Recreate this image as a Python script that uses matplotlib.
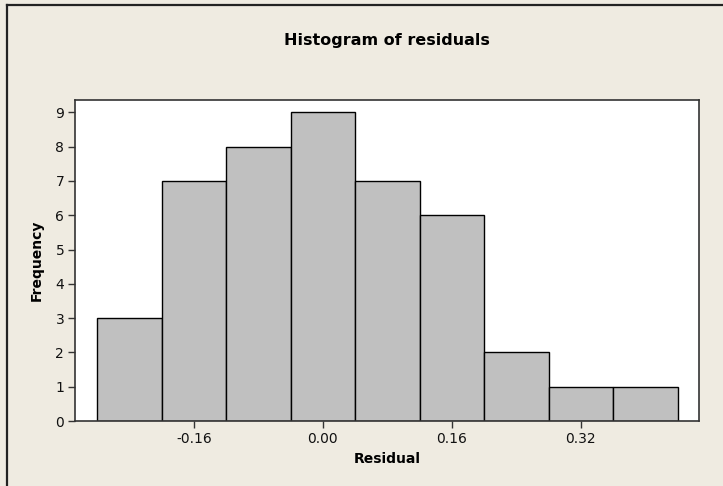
import matplotlib
matplotlib.use("Agg")
import matplotlib.pyplot as plt
from matplotlib.lines import Line2D

bin_centers = [-0.24, -0.16, -0.08, 0.00, 0.08, 0.16, 0.24, 0.32, 0.40]
counts = [3, 7, 8, 9, 7, 6, 2, 1, 1]
bin_width = 0.08
xtick_values = [-0.16, 0.00, 0.16, 0.32]
xtick_labels = ["-0.16", "0.00", "0.16", "0.32"]
ytick_values = list(range(0, 10))

title = "Histogram of residuals"
xlabel = "Residual"
ylabel = "Frequency"

plt.rcParams['font.family'] = ['DejaVu Sans']

bg = "#EFEBE1"
fig = plt.figure(figsize=(7.23, 4.86), dpi=100, facecolor=bg)
ax = fig.add_axes([75.3/723, 1-421/486, (699.3-75.3)/723, (421-100)/486])
ax.set_facecolor("white")

ax.bar(bin_centers, counts, width=bin_width, color="#C0C0C0",
       edgecolor="black", linewidth=1.0, zorder=2)

ax.set_xlim(-0.307, 0.467)
ax.set_ylim(0, 9.36)
ax.set_xticks(xtick_values)
ax.set_xticklabels(xtick_labels)
ax.set_yticks(ytick_values)

for s in ax.spines.values():
    s.set_color("#333333")
    s.set_linewidth(1.2)

ax.tick_params(axis='both', direction='out', length=5, width=1, color="#333333",
               labelsize=10, labelcolor="#111111", pad=3)

ax.set_xlabel(xlabel, fontsize=10, fontweight='bold', labelpad=4)
ax.set_ylabel(ylabel, fontsize=10, fontweight='bold', labelpad=8)
fig.text((75.3+699.3)/2/723, 1-40/486, title, ha='center', va='center',
         fontsize=11.5, fontweight='bold')

# outer frame lines (top and left)
fig.add_artist(Line2D([7.3/723, 1], [1-5.3/486, 1-5.3/486], transform=fig.transFigure,
                      color="#222222", linewidth=1.6))
fig.add_artist(Line2D([7.3/723, 7.3/723], [0, 1-5.3/486], transform=fig.transFigure,
                      color="#222222", linewidth=1.6))

fig.savefig("out.png", dpi=100, facecolor=bg)
